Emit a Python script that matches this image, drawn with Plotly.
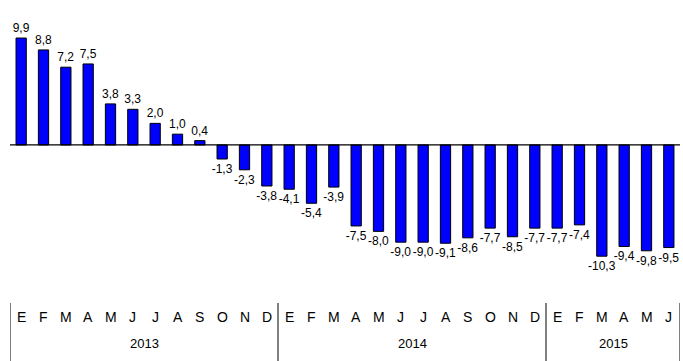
import plotly.graph_objects as go

months = ["E", "F", "M", "A", "M", "J", "J", "A", "S", "O", "N", "D",
          "E", "F", "M", "A", "M", "J", "J", "A", "S", "O", "N", "D",
          "E", "F", "M", "A", "M", "J"]
years = ["2013", "2014", "2015"]
year_counts = [12, 12, 6]
values = [9.9, 8.8, 7.2, 7.5, 3.8, 3.3, 2.0, 1.0, 0.4, -1.3, -2.3, -3.8,
          -4.1, -5.4, -3.9, -7.5, -8.0, -9.0, -9.0, -9.1, -8.6, -7.7, -8.5, -7.7,
          -7.7, -7.4, -10.3, -9.4, -9.8, -9.5]

x = list(range(len(values)))
labels = [f"{v:.1f}".replace(".", ",") for v in values]

fig = go.Figure()
fig.add_trace(go.Bar(
    x=x, y=values, width=0.46,
    marker=dict(color="#0000FF", line=dict(color="#000000", width=1)),
    text=labels, textposition="outside", cliponaxis=False, constraintext="none",
    textfont=dict(family="Liberation Sans, Arial, sans-serif", size=12, color="#000000"),
    hoverinfo="skip",
))

# zero line
fig.add_shape(type="line", xref="paper", yref="y", x0=0, x1=1, y0=0, y1=0,
              line=dict(color="#000000", width=1.2))

# month letters
for i, m in enumerate(months):
    fig.add_annotation(x=i, y=-0.137, xref="x", yref="paper", text=m, showarrow=False,
                       font=dict(family="Liberation Sans Narrow, Arial Narrow, Liberation Sans, sans-serif",
                                 size=14, color="#000"))

# year labels and separators
start = 0
bounds = [-0.5]
for yr, c in zip(years, year_counts):
    mid = start + (c - 1) / 2
    fig.add_annotation(x=mid, y=-0.233, xref="x", yref="paper", text=yr, showarrow=False,
                       font=dict(family="Liberation Sans Narrow, Arial Narrow, Liberation Sans, sans-serif",
                                 size=13, color="#000"))
    start += c
    bounds.append(start - 0.5)
for b in bounds:
    fig.add_shape(type="line", xref="x", yref="paper", x0=b, x1=b, y0=-0.048, y1=-0.27,
                  line=dict(color="#000000", width=1))

fig.update_layout(
    width=683, height=361,
    margin=dict(l=10, r=3, t=20, b=71),
    paper_bgcolor="white", plot_bgcolor="white",
    showlegend=False,
    xaxis=dict(range=[-0.5, 29.5], visible=False),
    yaxis=dict(range=[-13.43, 11.57], visible=False),
)

fig.write_html("out.html", config={"displayModeBar": False},
               post_script="document.body.style.margin='0';")
